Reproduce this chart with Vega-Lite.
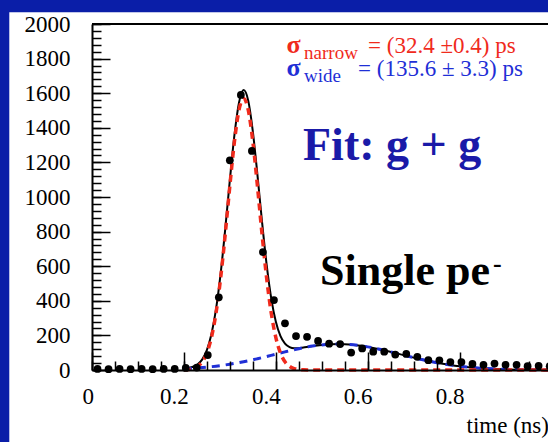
{
  "$schema": "https://vega.github.io/schema/vega-lite/v6.json",
  "width": 456,
  "height": 346,
  "autosize": {"type": "none"},
  "padding": {"left": 92, "top": 24, "right": 0, "bottom": 72},
  "background": "#0a1ea8",
  "config": {
    "view": {"stroke": null},
    "axis": {
      "zindex": 1, "grid": false, "domainColor": "black", "tickColor": "black",
      "labelColor": "black", "labelFont": "Liberation Serif", "labelFontSize": 23,
      "titleFont": "Liberation Serif", "titleColor": "black"
    },
    "text": {"font": "Liberation Serif"}
  },
  "datasets": {
    "one": [{}],
    "points": [
      {"t": 0.012, "n": 6}, {"t": 0.036, "n": 5}, {"t": 0.060, "n": 6}, {"t": 0.084, "n": 5},
      {"t": 0.108, "n": 6}, {"t": 0.132, "n": 5}, {"t": 0.156, "n": 6}, {"t": 0.180, "n": 6},
      {"t": 0.204, "n": 12}, {"t": 0.228, "n": 14}, {"t": 0.252, "n": 86}, {"t": 0.276, "n": 420},
      {"t": 0.300, "n": 1212}, {"t": 0.324, "n": 1590}, {"t": 0.348, "n": 1266}, {"t": 0.372, "n": 682},
      {"t": 0.396, "n": 404}, {"t": 0.420, "n": 270}, {"t": 0.444, "n": 196}, {"t": 0.468, "n": 192},
      {"t": 0.492, "n": 168}, {"t": 0.516, "n": 152}, {"t": 0.540, "n": 150}, {"t": 0.564, "n": 101},
      {"t": 0.588, "n": 125}, {"t": 0.612, "n": 106}, {"t": 0.636, "n": 106}, {"t": 0.660, "n": 89},
      {"t": 0.684, "n": 93}, {"t": 0.708, "n": 76}, {"t": 0.732, "n": 57}, {"t": 0.756, "n": 56},
      {"t": 0.780, "n": 46}, {"t": 0.804, "n": 46}, {"t": 0.828, "n": 35}, {"t": 0.852, "n": 30},
      {"t": 0.876, "n": 37}, {"t": 0.900, "n": 30}, {"t": 0.924, "n": 30}, {"t": 0.948, "n": 22},
      {"t": 0.972, "n": 24}, {"t": 0.996, "n": 22}
    ],
    "fit": [
      {"t": 0.20, "total": 8.2, "narrow": 1.1, "wide": 7.1},
      {"t": 0.21, "total": 11.6, "narrow": 3.1, "wide": 8.5},
      {"t": 0.22, "total": 18.5, "narrow": 8.4, "wide": 10.1},
      {"t": 0.23, "total": 32.8, "narrow": 20.8, "wide": 12.0},
      {"t": 0.24, "total": 61.4, "narrow": 47.3, "wide": 14.1},
      {"t": 0.25, "total": 115.1, "narrow": 98.6, "wide": 16.5},
      {"t": 0.26, "total": 207.8, "narrow": 188.6, "wide": 19.2},
      {"t": 0.27, "total": 353.2, "narrow": 331.0, "wide": 22.2},
      {"t": 0.28, "total": 558.2, "narrow": 532.6, "wide": 25.6},
      {"t": 0.29, "total": 815.3, "narrow": 786.0, "wide": 29.3},
      {"t": 0.30, "total": 1097.4, "narrow": 1064.0, "wide": 33.4},
      {"t": 0.31, "total": 1358.5, "narrow": 1320.6, "wide": 37.9},
      {"t": 0.32, "total": 1546.3, "narrow": 1503.6, "wide": 42.7},
      {"t": 0.33, "total": 1617.8, "narrow": 1570.0, "wide": 47.8},
      {"t": 0.34, "total": 1556.9, "narrow": 1503.6, "wide": 53.3},
      {"t": 0.35, "total": 1379.7, "narrow": 1320.6, "wide": 59.1},
      {"t": 0.36, "total": 1129.2, "narrow": 1064.0, "wide": 65.2},
      {"t": 0.37, "total": 857.5, "narrow": 786.0, "wide": 71.5},
      {"t": 0.38, "total": 610.7, "narrow": 532.6, "wide": 78.1},
      {"t": 0.39, "total": 415.7, "narrow": 331.0, "wide": 84.7},
      {"t": 0.40, "total": 280.0, "narrow": 188.6, "wide": 91.4},
      {"t": 0.41, "total": 196.7, "narrow": 98.6, "wide": 98.1},
      {"t": 0.42, "total": 152.0, "narrow": 47.3, "wide": 104.7},
      {"t": 0.43, "total": 132.0, "narrow": 20.8, "wide": 111.2},
      {"t": 0.44, "total": 125.7, "narrow": 8.4, "wide": 117.3},
      {"t": 0.45, "total": 126.3, "narrow": 3.1, "wide": 123.2},
      {"t": 0.46, "total": 129.8, "narrow": 1.1, "wide": 128.7},
      {"t": 0.47, "total": 134.0, "narrow": 0.3, "wide": 133.7},
      {"t": 0.48, "total": 138.3, "narrow": 0.1, "wide": 138.2},
      {"t": 0.50, "total": 145.1, "narrow": 0, "wide": 145.1},
      {"t": 0.52, "total": 149.1, "narrow": 0, "wide": 149.1},
      {"t": 0.54, "total": 149.9, "narrow": 0, "wide": 149.9},
      {"t": 0.56, "total": 147.5, "narrow": 0, "wide": 147.5},
      {"t": 0.58, "total": 142.0, "narrow": 0, "wide": 142.0},
      {"t": 0.60, "total": 133.7, "narrow": 0, "wide": 133.7},
      {"t": 0.62, "total": 123.2, "narrow": 0, "wide": 123.2},
      {"t": 0.64, "total": 111.2, "narrow": 0, "wide": 111.2},
      {"t": 0.66, "total": 98.1, "narrow": 0, "wide": 98.1},
      {"t": 0.68, "total": 84.7, "narrow": 0, "wide": 84.7},
      {"t": 0.70, "total": 71.5, "narrow": 0, "wide": 71.5},
      {"t": 0.72, "total": 59.1, "narrow": 0, "wide": 59.1},
      {"t": 0.74, "total": 47.8, "narrow": 0, "wide": 47.8},
      {"t": 0.76, "total": 37.9, "narrow": 0, "wide": 37.9},
      {"t": 0.78, "total": 29.3, "narrow": 0, "wide": 29.3},
      {"t": 0.80, "total": 22.2, "narrow": 0, "wide": 22.2},
      {"t": 0.82, "total": 16.5, "narrow": 0, "wide": 16.5},
      {"t": 0.84, "total": 12.0, "narrow": 0, "wide": 12.0},
      {"t": 0.86, "total": 8.5, "narrow": 0, "wide": 8.5},
      {"t": 0.88, "total": 5.9, "narrow": 0, "wide": 5.9},
      {"t": 0.90, "total": 4.0, "narrow": 0, "wide": 4.0},
      {"t": 0.95, "total": 1.4, "narrow": 0, "wide": 1.4},
      {"t": 1.00, "total": 0.4, "narrow": 0, "wide": 0.4}
    ]
  },
  "layer": [
    {
      "data": {"name": "one"},
      "mark": {"type": "rect", "color": "white", "clip": false},
      "encoding": {
        "x": {"datum": -0.18, "type": "quantitative", "scale": {"domain": [0, 0.9924], "nice": false}, "axis": null},
        "x2": {"datum": 1.5},
        "y": {"datum": 2068, "type": "quantitative", "scale": {"domain": [0, 2000], "nice": false}, "axis": null},
        "y2": {"datum": -1000}
      }
    },
    {
      "data": {"name": "one"},
      "mark": {"type": "rule", "color": "black", "strokeWidth": 2},
      "encoding": {
        "y": {"datum": 2000, "type": "quantitative", "scale": {"domain": [0, 2000], "nice": false}, "axis": null}
      }
    },
    {
      "data": {"name": "fit"},
      "mark": {"type": "line", "color": "black", "strokeWidth": 2, "interpolate": "monotone"},
      "encoding": {
        "x": {"field": "t", "type": "quantitative", "scale": {"domain": [0, 0.9924], "nice": false},
          "axis": {"orient": "bottom", "zindex": 2, "values": [0, 0.05, 0.1, 0.15, 0.2, 0.25, 0.3, 0.35, 0.4, 0.45, 0.5, 0.55, 0.6, 0.65, 0.7, 0.75, 0.8, 0.85, 0.9, 0.95],
            "tickSize": -9, "tickWidth": 1.5, "labels": false, "domain": false, "title": null}},
        "y": {"field": "total", "type": "quantitative", "scale": {"domain": [0, 2000], "nice": false},
          "axis": {"orient": "left", "zindex": 2, "values": [0, 40, 80, 120, 160, 200, 240, 280, 320, 360, 400, 440, 480, 520, 560, 600, 640, 680, 720, 760, 800, 840, 880, 920, 960, 1000, 1040, 1080, 1120, 1160, 1200, 1240, 1280, 1320, 1360, 1400, 1440, 1480, 1520, 1560, 1600, 1640, 1680, 1720, 1760, 1800, 1840, 1880, 1920, 1960, 2000],
            "tickSize": -9, "tickWidth": 1.5, "labels": false, "domain": false, "title": null}}
      }
    },
    {
      "data": {"name": "fit"},
      "mark": {"type": "line", "color": "#1f2fd6", "strokeWidth": 3, "strokeDash": [8, 6], "interpolate": "monotone"},
      "encoding": {
        "x": {"field": "t", "type": "quantitative", "scale": {"domain": [0, 0.9924], "nice": false}, "axis": null},
        "y": {"field": "wide", "type": "quantitative", "scale": {"domain": [0, 2000], "nice": false}, "axis": null}
      }
    },
    {
      "data": {"name": "fit"},
      "mark": {"type": "line", "color": "#f02a1c", "strokeWidth": 3.5, "strokeDash": [7, 5], "interpolate": "monotone"},
      "encoding": {
        "x": {"field": "t", "type": "quantitative", "scale": {"domain": [0, 0.9924], "nice": false}, "axis": null},
        "y": {"field": "narrow", "type": "quantitative", "scale": {"domain": [0, 2000], "nice": false}, "axis": null}
      }
    },
    {
      "data": {"name": "points"},
      "mark": {"type": "circle", "color": "black", "opacity": 1, "size": 60},
      "encoding": {
        "x": {"field": "t", "type": "quantitative", "scale": {"domain": [0, 0.9924], "nice": false},
          "axis": {"orient": "bottom", "zindex": 2, "values": [0, 0.2, 0.4, 0.6, 0.8], "format": "~g",
            "tickSize": -18, "tickWidth": 1.5, "domainWidth": 2, "labelPadding": 33, "labelOffset": -10,
            "title": "time (ns)", "titleX": 374, "titleY": 62, "titleAlign": "left", "titleBaseline": "alphabetic",
            "titleFontSize": 23, "titleFontWeight": "normal", "titleAnchor": "start"}},
        "y": {"field": "n", "type": "quantitative", "scale": {"domain": [0, 2000], "nice": false},
          "axis": {"orient": "left", "zindex": 2, "values": [0, 200, 400, 600, 800, 1000, 1200, 1400, 1600, 1800, 2000], "format": "d",
            "tickSize": -18, "tickWidth": 1.5, "domainWidth": 2, "labelPadding": 40, "title": null}}
      }
    },
    {
      "data": {"name": "one"},
      "mark": {"type": "text", "text": "σ", "color": "#f02a1c", "fontSize": 26, "fontWeight": "bold", "align": "left", "baseline": "alphabetic"},
      "encoding": {"x": {"datum": 0.4235, "type": "quantitative", "axis": null}, "y": {"datum": 1832, "type": "quantitative", "axis": null}}
    },
    {
      "data": {"name": "one"},
      "mark": {"type": "text", "text": "narrow", "color": "#f02a1c", "fontSize": 19, "align": "left", "baseline": "alphabetic"},
      "encoding": {"x": {"datum": 0.4615, "type": "quantitative", "axis": null}, "y": {"datum": 1800, "type": "quantitative", "axis": null}}
    },
    {
      "data": {"name": "one"},
      "mark": {"type": "text", "text": "= (32.4 ±0.4) ps", "color": "#f02a1c", "fontSize": 23, "align": "left", "baseline": "alphabetic"},
      "encoding": {"x": {"datum": 0.6007, "type": "quantitative", "axis": null}, "y": {"datum": 1832, "type": "quantitative", "axis": null}}
    },
    {
      "data": {"name": "one"},
      "mark": {"type": "text", "text": "σ", "color": "#1f2fd6", "fontSize": 26, "fontWeight": "bold", "align": "left", "baseline": "alphabetic"},
      "encoding": {"x": {"datum": 0.4235, "type": "quantitative", "axis": null}, "y": {"datum": 1699, "type": "quantitative", "axis": null}}
    },
    {
      "data": {"name": "one"},
      "mark": {"type": "text", "text": "wide", "color": "#1f2fd6", "fontSize": 19, "align": "left", "baseline": "alphabetic"},
      "encoding": {"x": {"datum": 0.4615, "type": "quantitative", "axis": null}, "y": {"datum": 1667, "type": "quantitative", "axis": null}}
    },
    {
      "data": {"name": "one"},
      "mark": {"type": "text", "text": "= (135.6 ± 3.3) ps", "color": "#1f2fd6", "fontSize": 23, "align": "left", "baseline": "alphabetic"},
      "encoding": {"x": {"datum": 0.5789, "type": "quantitative", "axis": null}, "y": {"datum": 1699, "type": "quantitative", "axis": null}}
    },
    {
      "data": {"name": "one"},
      "mark": {"type": "text", "text": "Fit: g + g", "color": "#1a1aa8", "fontSize": 46, "fontWeight": "bold", "align": "left", "baseline": "alphabetic"},
      "encoding": {"x": {"datum": 0.4592, "type": "quantitative", "axis": null}, "y": {"datum": 1214, "type": "quantitative", "axis": null}}
    },
    {
      "data": {"name": "one"},
      "mark": {"type": "text", "text": "Single pe", "color": "black", "fontSize": 44, "fontWeight": "bold", "align": "left", "baseline": "alphabetic"},
      "encoding": {"x": {"datum": 0.4962, "type": "quantitative", "axis": null}, "y": {"datum": 491, "type": "quantitative", "axis": null}}
    },
    {
      "data": {"name": "one"},
      "mark": {"type": "text", "text": "-", "color": "black", "fontSize": 26, "fontWeight": "bold", "align": "left", "baseline": "alphabetic"},
      "encoding": {"x": {"datum": 0.8727, "type": "quantitative", "axis": null}, "y": {"datum": 566, "type": "quantitative", "axis": null}}
    }
  ],
  "resolve": {"axis": {"x": "independent", "y": "independent"}}
}
